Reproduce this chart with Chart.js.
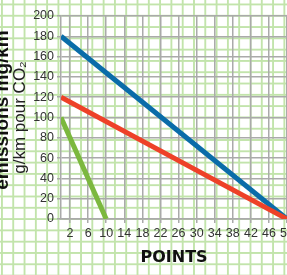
<!DOCTYPE html>
<html>
<head>
<meta charset="utf-8">
<script src="https://cdn.jsdelivr.net/npm/chart.js"></script>
<style>
  html, body {
    margin: 0;
    width: 287px;
    height: 275px;
    overflow: hidden;
    background-color: #fff;
    /* graph paper */
    background-image:
      linear-gradient(to right, #c2e4ab 1.5px, transparent 1.5px),
      linear-gradient(to bottom, #c2e4ab 1.5px, transparent 1.5px);
    background-size: 11.3px 11.3px;
    background-position: 1px 3.5px;
  }
  #wrap { width: 297px; height: 275px; }
</style>
</head>
<body>
<div id="wrap"><canvas id="myChart"></canvas></div>
<script>
// x range of each line and its values (g/km)
var blueX = [0, 50];
var blueY = [180, 0];
var redX = [0, 50];
var redY = [120, 0];
var greenX = [0, 10];
var greenY = [100, 0];

var xTicks = [2, 6, 10, 14, 18, 22, 26, 30, 34, 38, 42, 46, 50];
var yTicks = [0, 20, 40, 60, 80, 100, 120, 140, 160, 180, 200];

function points(xs, ys) {
  return xs.map(function (x, i) { return { x: x, y: ys[i] }; });
}

var gray = "#aaaaaa";
var tickFont = { family: "'Liberation Sans Narrow', 'Liberation Sans', sans-serif", size: 12.5 };

// bold line of the y title, mostly cut off by the left edge
var sideTitle = {
  id: "sideTitle",
  afterDraw: function (chart) {
    var ctx = chart.ctx;
    ctx.save();
    ctx.translate(8, 110);
    ctx.rotate(-Math.PI / 2);
    ctx.font = "bold 19px 'Liberation Sans', sans-serif";
    ctx.fillStyle = "#111";
    ctx.textAlign = "center";
    ctx.textBaseline = "alphabetic";
    ctx.fillText("émissions mg/km", 0, 0);
    ctx.restore();
  }
};

var ctx = document.getElementById("myChart").getContext("2d");
var chart = new Chart(ctx, {
  type: "line",
  data: {
    datasets: [
      { label: "rouge", data: points(redX, redY), borderColor: "#ee4128", order: 0 },
      { label: "bleu", data: points(blueX, blueY), borderColor: "#0a6ca9", order: 1 },
      { label: "vert", data: points(greenX, greenY), borderColor: "#7cb83e", order: 2 }
    ]
  },
  options: {
    responsive: true,
    maintainAspectRatio: false,
    animation: false,
    layout: { padding: { top: 16, left: 0, right: 0, bottom: 0 } },
    elements: {
      line: { borderWidth: 5, borderCapStyle: "butt", tension: 0 },
      point: { radius: 0 }
    },
    plugins: {
      legend: { display: false },
      tooltip: { enabled: false }
    },
    scales: {
      x: {
        type: "linear",
        min: 0,
        max: 50,
        afterBuildTicks: function (axis) {
          axis.ticks = xTicks.map(function (v) { return { value: v }; });
        },
        afterFit: function (scale) { scale.height = 56; },
        grid: { color: gray, lineWidth: 1.5, tickLength: 4 },
        border: { color: gray, width: 1.5 },
        ticks: { font: tickFont, color: "#333", padding: 3, maxRotation: 0, autoSkip: false },
        title: {
          display: true,
          text: "POINTS",
          color: "#111",
          font: { family: "'DejaVu Sans', sans-serif", size: 16, weight: "bold" },
          padding: { top: 0, bottom: 8 }
        }
      },
      y: {
        min: 0,
        max: 200,
        afterBuildTicks: function (axis) {
          axis.ticks = yTicks.map(function (v) { return { value: v }; });
        },
        afterFit: function (scale) { scale.width = 61; },
        grid: { color: gray, lineWidth: 1.5, tickLength: 4 },
        border: { color: gray, width: 1.5 },
        ticks: { font: tickFont, color: "#333", padding: 3 },
        title: {
          display: true,
          text: "g/km pour CO₂",
          color: "#222",
          font: { family: "'Liberation Sans', sans-serif", size: 17 },
          padding: { top: 10, bottom: 0 }
        }
      }
    }
  },
  plugins: [sideTitle]
});
</script>
</body>
</html>
